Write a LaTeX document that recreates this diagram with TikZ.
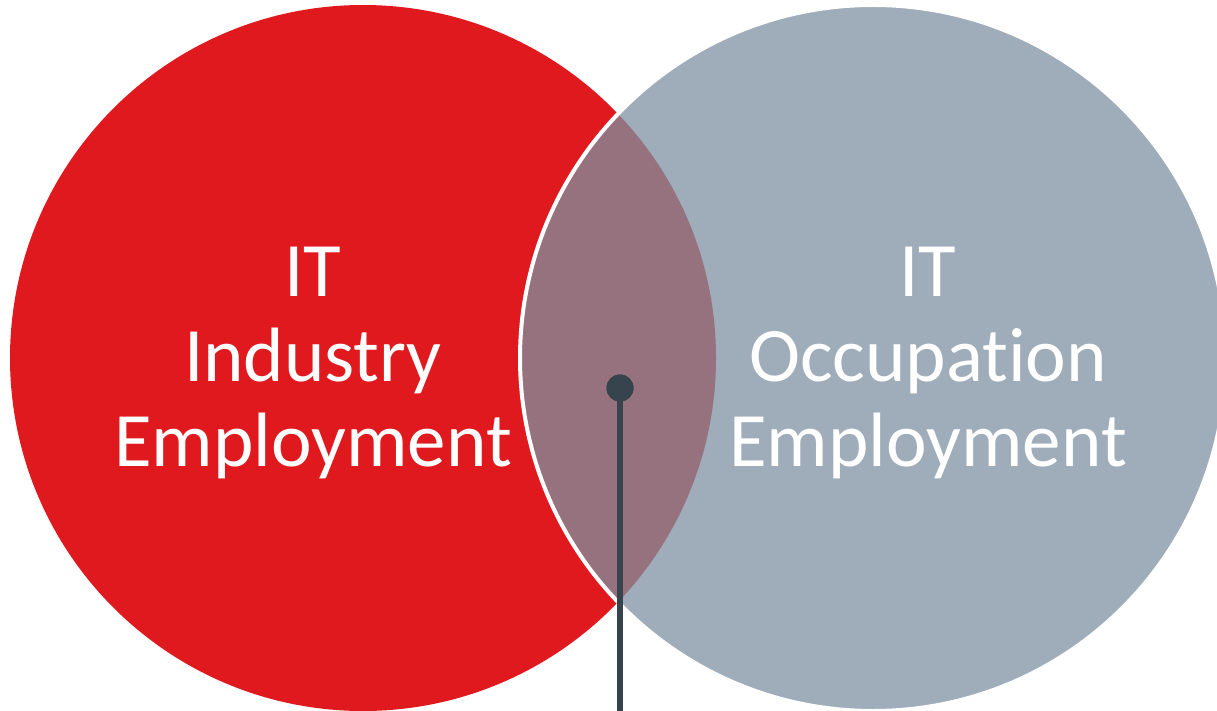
\documentclass[tikz,border=0pt]{standalone}
\usepackage{fontspec}
\setmainfont{Carlito}[Ligatures={NoCommon,NoRare,NoContextual}]
\definecolor{vred}{HTML}{E0191F}
\definecolor{vgrey}{HTML}{9EADB9}
\definecolor{vmix}{HTML}{96717E}
\definecolor{vdark}{HTML}{37434D}
\tikzset{
  label/.style={text=white, align=center, inner sep=0pt, outer sep=0pt,
    font=\fontsize{77}{85}\selectfont},
  pin/.style={circle, fill=vdark, minimum size=27pt, inner sep=0pt},
  stem/.style={draw=vdark, line width=6pt}
}
\begin{document}
\begin{tikzpicture}[x=1pt,y=-1pt]
\useasboundingbox (0,0) rectangle (1217,711);
\clip (0,0) rectangle (1217,711);
% circles
\fill[vred] (363,358) circle[radius=353];
\fill[vgrey] (873,358) circle[radius=353];
\begin{scope}
  \clip (363,358) circle[radius=353];
  \fill[vmix] (873,358) circle[radius=353];
\end{scope}
\draw[white, line width=4pt] (873,358) circle[radius=353];
% labels
\node[label] (ind) at (313,363) {IT\\Industry\\Employment};
\node[label] (occ) at (928,363) {IT\\Occupation\\Employment};
% pin
\coordinate (bot) at (620,711);
\node[pin] (dot) at (620,388) {};
\draw[stem] (dot.center) -- (bot);
\node[pin] at (dot) {};
\end{tikzpicture}
\end{document}
